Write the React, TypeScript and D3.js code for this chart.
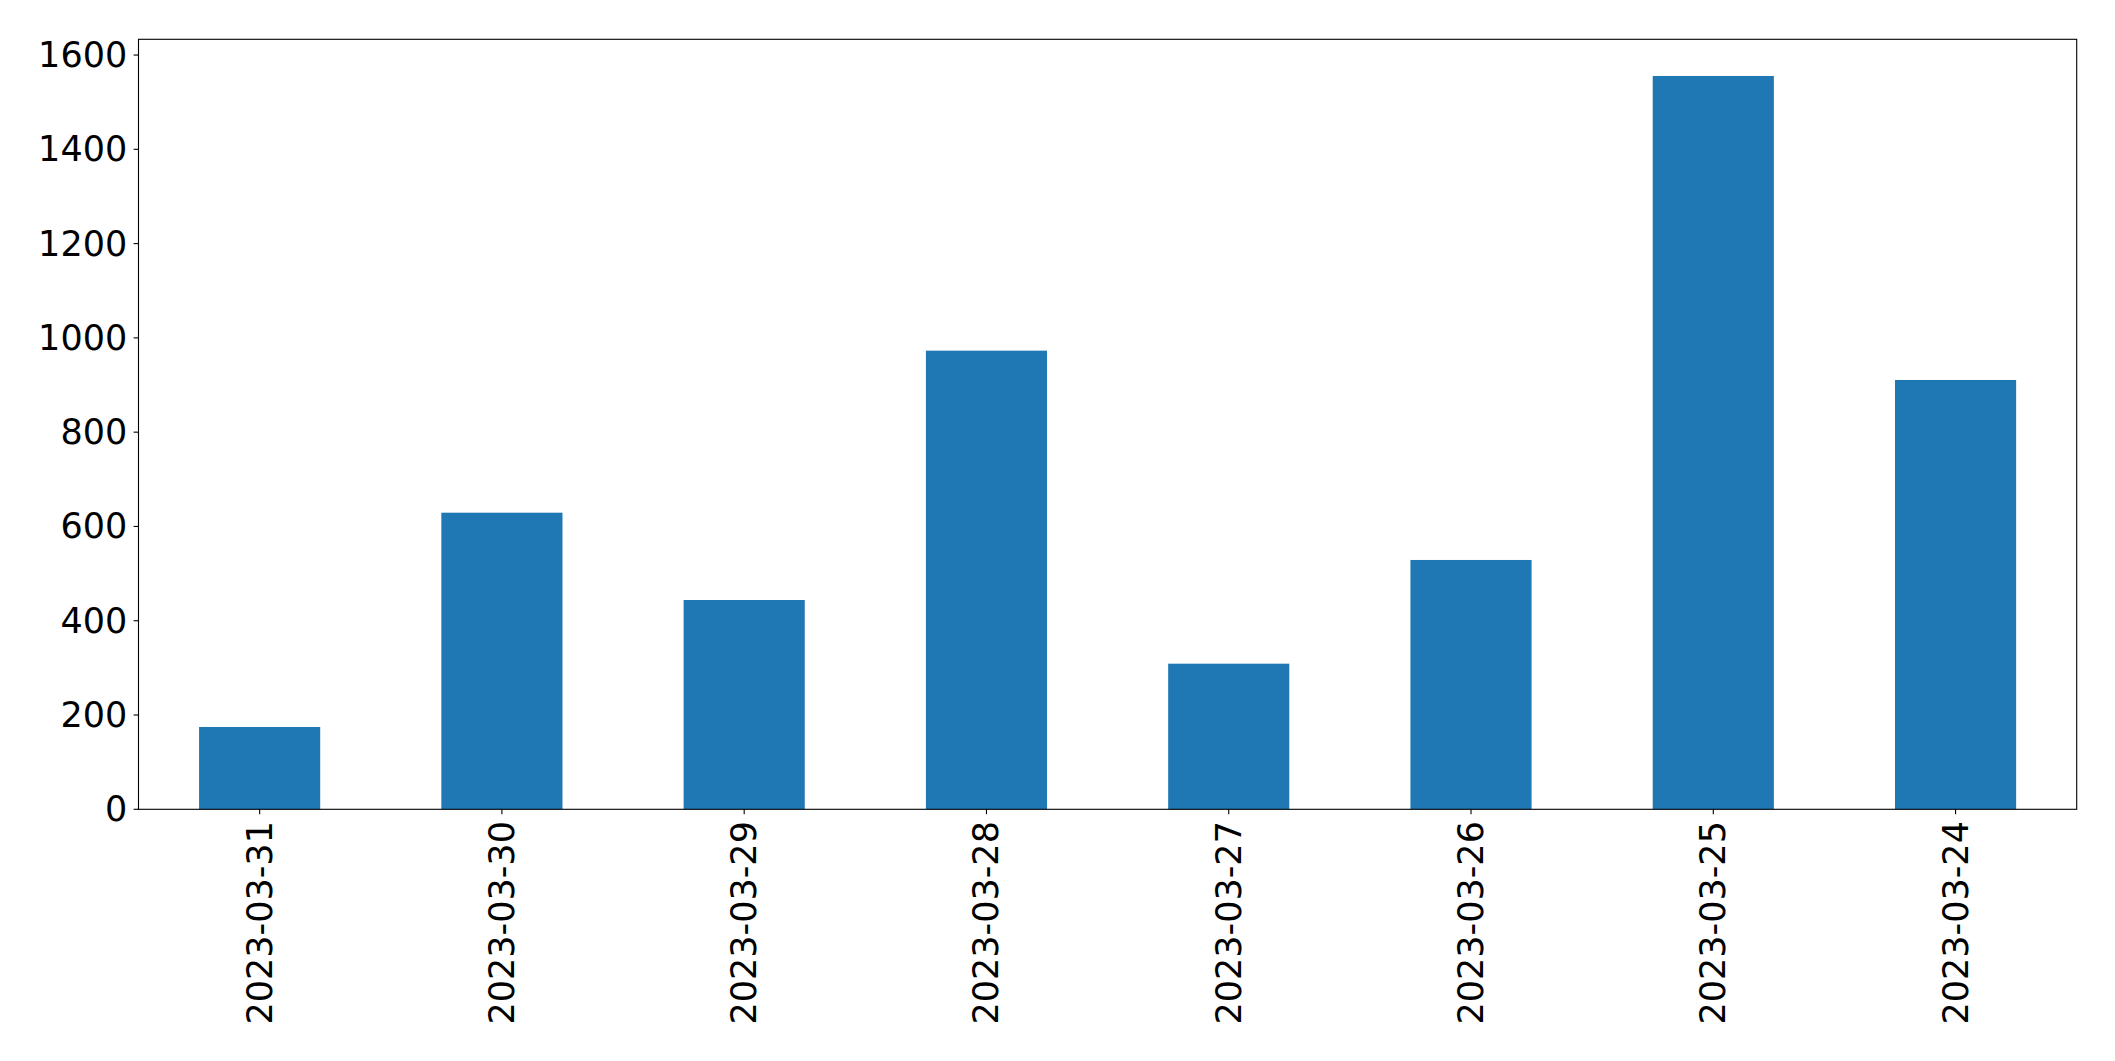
import React from "react";
import * as d3 from "d3";

const categories = ["2023-03-31", "2023-03-30", "2023-03-29", "2023-03-28", "2023-03-27", "2023-03-26", "2023-03-25", "2023-03-24"];
const values = [174.6, 629.2, 444.0, 972.9, 308.9, 528.9, 1555.6, 910.7];
const yTicks = [0, 200, 400, 600, 800, 1000, 1200, 1400, 1600];

const W = 2115;
const H = 1061;
const left = 138.5;
const right = 2076.7;
const top = 39.3;
const bottom = 809.3;
const font = "'DejaVu Sans', sans-serif";
const fontSize = 35;

export default function App() {
  const x = d3.scaleLinear().domain([-0.5, categories.length - 0.5]).range([left, right]);
  const yMax = d3.max(values)! * 1.05;
  const y = d3.scaleLinear().domain([0, yMax]).range([bottom, top]);
  const bw = x(0.25) - x(-0.25);
  return (
    <svg width={W} height={H} style={{ position: "absolute", left: 0, top: 0, background: "#fff" }}>
      <rect x={0} y={0} width={W} height={H} fill="#fff" />
      {values.map((v, i) => (
        <rect key={i} x={x(i) - bw / 2} y={y(v)} width={bw} height={y(0) - y(v)} fill="#1f77b4" />
      ))}
      <rect x={left} y={top} width={right - left} height={bottom - top} fill="none" stroke="#000" strokeWidth={1.1} />
      {yTicks.map((t) => (
        <g key={t}>
          <line x1={left - 4.9} x2={left} y1={y(t)} y2={y(t)} stroke="#000" strokeWidth={1.1} />
          <text x={left - 4.9 - 4.9 - 1.5} y={y(t)} textAnchor="end" dominantBaseline="central" fontFamily={font} fontSize={fontSize} fill="#000">
            {t}
          </text>
        </g>
      ))}
      {categories.map((c, i) => (
        <g key={c}>
          <line x1={x(i)} x2={x(i)} y1={bottom} y2={bottom + 4.9} stroke="#000" strokeWidth={1.1} />
          <text
            transform={`translate(${x(i)},${bottom + 4.9 + 4.9 + 2}) rotate(-90)`}
            textAnchor="end"
            dominantBaseline="central"
            fontFamily={font}
            fontSize={fontSize}
            fill="#000"
          >
            {c}
          </text>
        </g>
      ))}
    </svg>
  );
}
